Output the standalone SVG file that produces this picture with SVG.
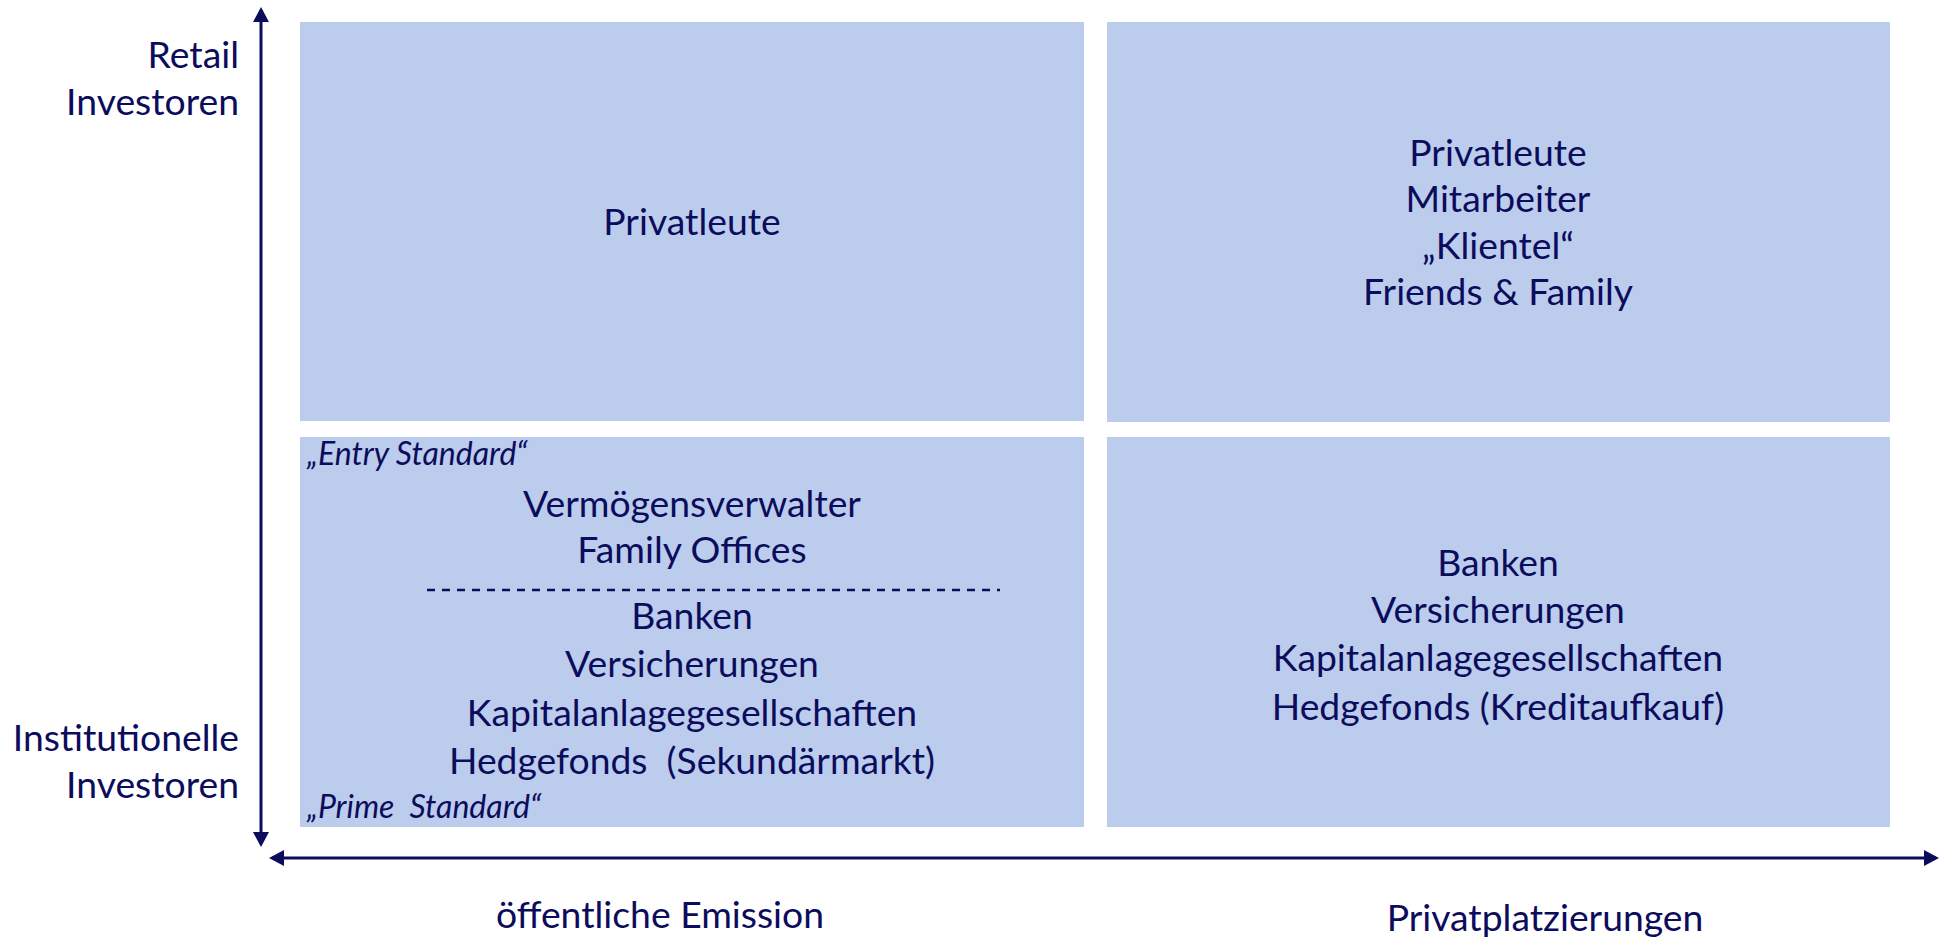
<svg xmlns="http://www.w3.org/2000/svg" width="1941" height="940" viewBox="0 0 1941 940">
  <style>
    .box { fill: #bccced; }
    .t { font-family: Lato, "Liberation Sans", sans-serif; font-size: 37.3px; fill: #0c0c5c; }
    .c { text-anchor: middle; }
    .r { text-anchor: end; }
    .it { font-family: Lato, "Liberation Sans", sans-serif; font-size: 32px; font-style: italic; fill: #0c0c5c; }
    .axis { stroke: #0c0c5c; stroke-width: 3; fill: none; }
  </style>
  <defs>
    <marker id="arr" viewBox="0 0 15 16" refX="12" refY="8" markerWidth="15" markerHeight="16" markerUnits="userSpaceOnUse" orient="auto-start-reverse">
      <path d="M0,0 L15,8 L0,16 Z" fill="#0c0c5c"/>
    </marker>
  </defs>

  <!-- quadrant: public offering, retail -->
  <g id="pub-retail">
    <rect class="box" x="300" y="22" width="784" height="399"/>
    <text class="t c" x="692" y="235">Privatleute</text>
  </g>

  <!-- quadrant: private placement, retail -->
  <g id="priv-retail">
    <rect class="box" x="1107" y="22" width="783" height="400"/>
    <text class="t c" x="1498" y="166">Privatleute</text>
    <text class="t c" x="1498" y="212">Mitarbeiter</text>
    <text class="t c" x="1498" y="259">„Klientel“</text>
    <text class="t c" x="1498" y="305">Friends &amp; Family</text>
  </g>

  <!-- quadrant: public offering, institutional -->
  <g id="pub-inst">
    <rect class="box" x="300" y="437" width="784" height="390"/>
    <text class="it" x="307" y="465">„Entry Standard“</text>
    <text class="t c" x="692" y="517">Vermögensverwalter</text>
    <text class="t c" x="692" y="563">Family Offices</text>
    <line x1="427" y1="590" x2="1000" y2="590" stroke="#0c0c5c" stroke-width="2.5" stroke-dasharray="8 7"/>
    <text class="t c" x="692" y="629">Banken</text>
    <text class="t c" x="692" y="677">Versicherungen</text>
    <text class="t c" x="692" y="726">Kapitalanlagegesellschaften</text>
    <text class="t c" x="692" y="774" xml:space="preserve">Hedgefonds  (Sekundärmarkt)</text>
    <text class="it" x="307" y="818" xml:space="preserve">„Prime  Standard“</text>
  </g>

  <!-- quadrant: private placement, institutional -->
  <g id="priv-inst">
    <rect class="box" x="1107" y="437" width="783" height="390"/>
    <text class="t c" x="1498" y="576">Banken</text>
    <text class="t c" x="1498" y="623">Versicherungen</text>
    <text class="t c" x="1498" y="671">Kapitalanlagegesellschaften</text>
    <text class="t c" x="1498" y="720">Hedgefonds (Kreditaufkauf)</text>
  </g>

  <!-- axis labels -->
  <g id="y-top-label">
    <text class="t r" x="239" y="68">Retail</text>
    <text class="t r" x="239" y="115">Investoren</text>
  </g>
  <g id="y-bottom-label">
    <text class="t r" x="239" y="751">Institutionelle</text>
    <text class="t r" x="239" y="798">Investoren</text>
  </g>
  <g id="x-left-label">
    <text class="t c" x="660" y="928">öffentliche Emission</text>
  </g>
  <g id="x-right-label">
    <text class="t c" x="1545" y="931">Privatplatzierungen</text>
  </g>

  <!-- axes -->
  <g id="connectors">
    <line class="axis" x1="261" y1="10" x2="261" y2="844" marker-start="url(#arr)" marker-end="url(#arr)"/>
    <line class="axis" x1="272" y1="858" x2="1936" y2="858" marker-start="url(#arr)" marker-end="url(#arr)"/>
  </g>
</svg>
